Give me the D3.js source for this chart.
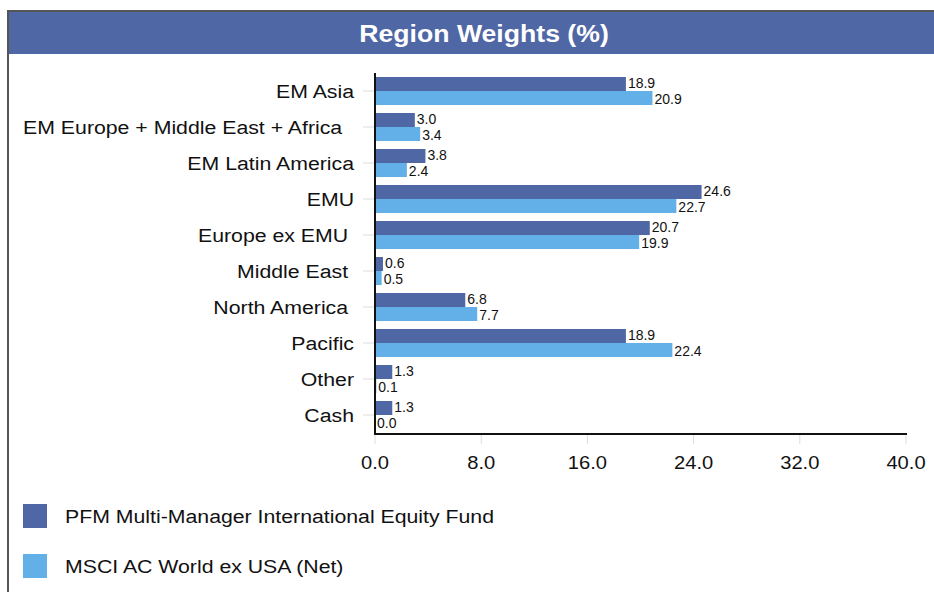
<!DOCTYPE html>
<html>
<head>
<meta charset="utf-8">
<script src="https://cdn.jsdelivr.net/npm/d3@7"></script>
<style>
body { margin:0; background:#fff; }
svg { display:block; font-family: "Liberation Sans", Arial, sans-serif; }
text { white-space: pre; }
</style>
</head>
<body>
<svg id="chart" width="934" height="592"></svg>
<script>
var categories = ["EM Asia", "EM Europe + Middle East + Africa  ", "EM Latin America", "EMU",
    "Europe ex EMU ", "Middle East ", "North America ", "Pacific", "Other", "Cash"];
var fundValues = [18.9, 3.0, 3.8, 24.6, 20.7, 0.6, 6.8, 18.9, 1.3, 1.3];
var benchValues = [20.9, 3.4, 2.4, 22.7, 19.9, 0.5, 7.7, 22.4, 0.1, 0.0];
var xTicks = [0, 8, 16, 24, 32, 40];
var seriesNames = ["PFM Multi-Manager International Equity Fund", "MSCI AC World ex USA (Net)"];
var colors = ["#4f67a5", "#63b0e8"];

var stretch = 1.12; // reference text renders a bit wider than Liberation Sans
function place(fx, fy, k) {
    return function(d, i) {
        return 'translate(' + fx(d, i) + ',' + fy(d, i) + ') scale(' + (k || stretch) + ',1)';
    };
}

var svg = d3.select('#chart');

// frame + title bar
svg.append('rect').attr('x', 8).attr('y', 11).attr('width', 940).attr('height', 600)
    .attr('fill', 'none').attr('stroke', '#555').attr('stroke-width', 2);
svg.append('rect').attr('x', 9).attr('y', 12).attr('width', 925).attr('height', 42)
    .attr('fill', '#4f67a5');
svg.append('text').attr('transform', 'translate(484,42) scale(1.11,1)')
    .attr('text-anchor', 'middle')
    .attr('fill', '#fff').attr('font-size', 24).attr('font-weight', 'bold')
    .text('Region Weights (%)');

var x = d3.scaleLinear().domain([0, 40]).range([375, 906]);
var y = d3.scaleBand().domain(categories).range([73, 433]);
var inner = d3.scaleBand().domain([0, 1]).range([4, y.bandwidth() - 4]);

// y category ticks
svg.append('g').selectAll('line').data(categories).enter().append('line')
    .attr('x1', 363).attr('x2', 375)
    .attr('y1', function(d) { return y(d) + y.bandwidth() / 2; })
    .attr('y2', function(d) { return y(d) + y.bandwidth() / 2; })
    .attr('stroke', '#ddd').attr('stroke-width', 1);

svg.append('g').selectAll('text').data(categories).enter().append('text')
    .attr('transform', place(function() { return 354; },
        function(d) { return y(d) + y.bandwidth() / 2; }))
    .attr('dy', '0.35em').attr('text-anchor', 'end')
    .attr('font-size', 19).attr('fill', '#111')
    .text(function(d) { return d; });

// bars
var series = [fundValues, benchValues];
series.forEach(function(vals, s) {
    var g = svg.append('g');
    g.selectAll('rect').data(vals).enter().append('rect')
        .attr('x', x(0))
        .attr('y', function(d, i) { return y(categories[i]) + inner(s); })
        .attr('width', function(d) { return Math.max(x(d) - x(0), d > 0 ? 1 : 0.8); })
        .attr('height', inner.bandwidth())
        .attr('fill', colors[s]);
    g.selectAll('text').data(vals).enter().append('text')
        .attr('transform', place(function(d) { return x(d) + 2; },
            function(d, i) { return y(categories[i]) + inner(s) + inner.bandwidth() / 2 + (s ? 1 : -1); }, 1))
        .attr('dy', '0.35em').attr('font-size', 14).attr('fill', '#111')
        .text(function(d) { return d.toFixed(1); });
});

// x axis
var xg = svg.append('g');
xg.selectAll('line').data(xTicks).enter().append('line')
    .attr('x1', function(d) { return x(d); }).attr('x2', function(d) { return x(d); })
    .attr('y1', 434).attr('y2', 444)
    .attr('stroke', '#ddd').attr('stroke-width', 1);
xg.selectAll('text').data(xTicks).enter().append('text')
    .attr('transform', place(function(d) { return x(d); }, function() { return 463; }))
    .attr('dy', '0.35em').attr('text-anchor', 'middle')
    .attr('font-size', 18).attr('fill', '#111')
    .text(function(d) { return d.toFixed(1); });

svg.append('line').attr('x1', 375).attr('x2', 375).attr('y1', 73).attr('y2', 435)
    .attr('stroke', '#111').attr('stroke-width', 2);
svg.append('line').attr('x1', 374).attr('x2', 907).attr('y1', 434).attr('y2', 434)
    .attr('stroke', '#111').attr('stroke-width', 2);

// legend
var lg = svg.append('g').selectAll('g').data(seriesNames).enter().append('g')
    .attr('transform', function(d, i) { return 'translate(23,' + (504 + i * 50) + ')'; });
lg.append('rect').attr('width', 24).attr('height', 24)
    .attr('fill', function(d, i) { return colors[i]; });
lg.append('text').attr('transform', 'translate(42,12) scale(' + stretch + ',1)')
    .attr('dy', '0.35em')
    .attr('font-size', 19).attr('fill', '#111')
    .text(function(d) { return d; });
</script>
</body>
</html>
